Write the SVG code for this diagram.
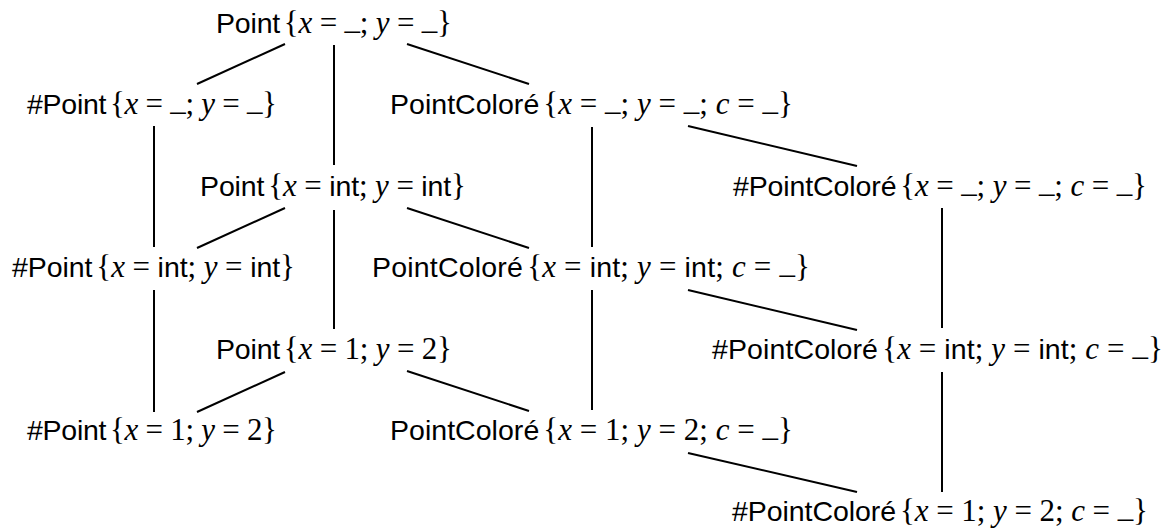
<svg xmlns="http://www.w3.org/2000/svg" width="1169" height="531" viewBox="0 0 1169 531">
<style>
text{font-family:"Liberation Serif","Times New Roman",serif;font-size:31px;fill:#000}
.s{font-family:"Liberation Sans",Arial,sans-serif;font-size:28.5px}
.v{font-style:italic}
.sp{font-size:16px}
#edges line{stroke:#000;stroke-width:2;stroke-linecap:butt}
</style>
<rect width="1169" height="531" fill="#fff"/>
<g id="edges">
<line x1="285" y1="44" x2="197" y2="84"/>
<line x1="334" y1="45" x2="334" y2="165"/>
<line x1="407" y1="44" x2="529" y2="84"/>
<line x1="154" y1="126" x2="154" y2="247"/>
<line x1="592" y1="127" x2="592" y2="247"/>
<line x1="688" y1="126" x2="857" y2="166"/>
<line x1="285" y1="208" x2="197" y2="248"/>
<line x1="334" y1="210" x2="334" y2="329"/>
<line x1="407" y1="208" x2="529" y2="248"/>
<line x1="942" y1="208" x2="942" y2="328"/>
<line x1="154" y1="290" x2="154" y2="412"/>
<line x1="592" y1="290" x2="592" y2="410"/>
<line x1="688" y1="290" x2="857" y2="330"/>
<line x1="285" y1="372" x2="197" y2="412"/>
<line x1="407" y1="371" x2="529" y2="411"/>
<line x1="942" y1="372" x2="942" y2="492"/>
<line x1="688" y1="453" x2="857" y2="492"/>
</g>
<g id="n1"><text x="216" y="33" textLength="236" lengthAdjust="spacing"><tspan class="s">Point</tspan><tspan class="sp"> </tspan>{<tspan class="v">x</tspan> = <tspan dy="-4">_</tspan><tspan dy="4">; </tspan><tspan class="v">y</tspan> = <tspan dy="-4">_</tspan><tspan dy="4">}</tspan></text></g>
<g id="n2"><text x="27" y="114" textLength="250" lengthAdjust="spacing"><tspan class="s">#Point</tspan><tspan class="sp"> </tspan>{<tspan class="v">x</tspan> = <tspan dy="-4">_</tspan><tspan dy="4">; </tspan><tspan class="v">y</tspan> = <tspan dy="-4">_</tspan><tspan dy="4">}</tspan></text></g>
<g id="n3"><text x="390" y="114" textLength="403" lengthAdjust="spacing"><tspan class="s">PointColoré</tspan><tspan class="sp"> </tspan>{<tspan class="v">x</tspan> = <tspan dy="-4">_</tspan><tspan dy="4">; </tspan><tspan class="v">y</tspan> = <tspan dy="-4">_</tspan><tspan dy="4">; </tspan><tspan class="v">c</tspan> = <tspan dy="-4">_</tspan><tspan dy="4">}</tspan></text></g>
<g id="n4"><text x="200" y="196" textLength="266" lengthAdjust="spacing"><tspan class="s">Point</tspan><tspan class="sp"> </tspan>{<tspan class="v">x</tspan> = <tspan class="s">int</tspan>; <tspan class="v">y</tspan> = <tspan class="s">int</tspan>}</text></g>
<g id="n5"><text x="733" y="196" textLength="414" lengthAdjust="spacing"><tspan class="s">#PointColoré</tspan><tspan class="sp"> </tspan>{<tspan class="v">x</tspan> = <tspan dy="-4">_</tspan><tspan dy="4">; </tspan><tspan class="v">y</tspan> = <tspan dy="-4">_</tspan><tspan dy="4">; </tspan><tspan class="v">c</tspan> = <tspan dy="-4">_</tspan><tspan dy="4">}</tspan></text></g>
<g id="n6"><text x="12" y="277" textLength="283" lengthAdjust="spacing"><tspan class="s">#Point</tspan><tspan class="sp"> </tspan>{<tspan class="v">x</tspan> = <tspan class="s">int</tspan>; <tspan class="v">y</tspan> = <tspan class="s">int</tspan>}</text></g>
<g id="n7"><text x="372" y="277" textLength="438" lengthAdjust="spacing"><tspan class="s">PointColoré</tspan><tspan class="sp"> </tspan>{<tspan class="v">x</tspan> = <tspan class="s">int</tspan>; <tspan class="v">y</tspan> = <tspan class="s">int</tspan>; <tspan class="v">c</tspan> = <tspan dy="-4">_</tspan><tspan dy="4">}</tspan></text></g>
<g id="n8"><text x="216" y="359" textLength="236" lengthAdjust="spacing"><tspan class="s">Point</tspan><tspan class="sp"> </tspan>{<tspan class="v">x</tspan> = 1; <tspan class="v">y</tspan> = 2}</text></g>
<g id="n9"><text x="712" y="359" textLength="451" lengthAdjust="spacing"><tspan class="s">#PointColoré</tspan><tspan class="sp"> </tspan>{<tspan class="v">x</tspan> = <tspan class="s">int</tspan>; <tspan class="v">y</tspan> = <tspan class="s">int</tspan>; <tspan class="v">c</tspan> = <tspan dy="-4">_</tspan><tspan dy="4">}</tspan></text></g>
<g id="n10"><text x="27" y="440" textLength="250" lengthAdjust="spacing"><tspan class="s">#Point</tspan><tspan class="sp"> </tspan>{<tspan class="v">x</tspan> = 1; <tspan class="v">y</tspan> = 2}</text></g>
<g id="n11"><text x="390" y="440" textLength="403" lengthAdjust="spacing"><tspan class="s">PointColoré</tspan><tspan class="sp"> </tspan>{<tspan class="v">x</tspan> = 1; <tspan class="v">y</tspan> = 2; <tspan class="v">c</tspan> = <tspan dy="-4">_</tspan><tspan dy="4">}</tspan></text></g>
<g id="n12"><text x="732" y="521" textLength="416" lengthAdjust="spacing"><tspan class="s">#PointColoré</tspan><tspan class="sp"> </tspan>{<tspan class="v">x</tspan> = 1; <tspan class="v">y</tspan> = 2; <tspan class="v">c</tspan> = <tspan dy="-4">_</tspan><tspan dy="4">}</tspan></text></g>
</svg>
